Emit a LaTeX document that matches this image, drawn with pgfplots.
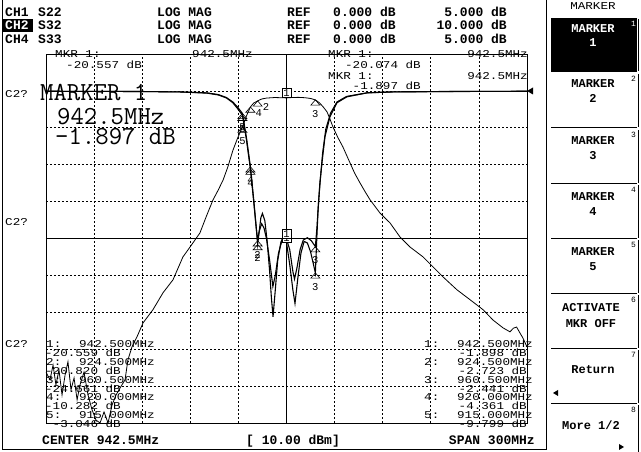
\documentclass[border=0pt]{standalone}
\usepackage{fontspec}
\newfontfamily\lmono{Liberation Mono}
\usepackage{pgfplots}
\usepackage{pgfplotstable}
\pgfplotsset{compat=1.18}

\newcommand\hdf{\lmono\bfseries\fontsize{13}{13}\selectfont}
\newcommand\smf{\lmono\fontsize{10.5}{10.5}\selectfont}
\newcommand\skf{\lmono\bfseries\fontsize{12}{12}\selectfont}
\newcommand\bigf{\ttfamily\fontsize{26}{26}\selectfont}

% CH2 S32, 10 dB/div
\pgfplotstableread{
f db
792.5 -76.2
795.0 -78.3
796.9 -74.3
798.7 -79.7
800.6 -75.6
802.5 -82.4
804.4 -77.0
806.2 -73.4
808.1 -81.0
810.0 -77.8
811.9 -83.7
813.7 -79.7
816.2 -76.2
818.7 -82.4
821.2 -86.4
823.7 -89.2
826.2 -90.0
828.7 -87.0
831.2 -90.0
833.7 -85.1
836.2 -82.4
838.7 -80.5
841.8 -78.3
843.6 -72.9
846.1 -69.4
849.2 -66.7
853.0 -62.9
859.2 -59.3
865.5 -54.7
871.7 -51.2
877.9 -45.0
883.0 -41.9
888.5 -38.5
892.5 -34.0
896.7 -29.5
900.0 -26.8
903.0 -24.1
906.0 -20.5
909.0 -16.2
912.0 -12.8
915.0 -9.8
917.5 -6.8
920.0 -4.36
922.0 -3.3
924.5 -2.72
927.0 -2.2
930.0 -1.95
935.0 -1.8
939.0 -1.85
942.5 -1.9
946.0 -1.8
950.0 -1.75
954.0 -1.85
957.5 -2.05
960.5 -2.44
963.0 -3.2
965.5 -4.4
967.8 -5.7
969.5 -7.5
971.5 -9.8
974.5 -12.6
977.7 -15.2
982.1 -19.5
985.0 -22.3
988.3 -24.9
991.5 -27.3
994.6 -29.5
1000.8 -33.1
1007.1 -35.8
1013.3 -39.6
1019.5 -42.3
1027.7 -45.0
1033.9 -47.7
1040.1 -50.4
1048.8 -53.9
1057.0 -56.6
1065.1 -59.3
1071.3 -62.1
1077.5 -64.2
1081.9 -65.3
1084.0 -64.3
1086.0 -64.0
1088.1 -65.6
1090.0 -67.0
1092.5 -69.4
}\tabS

% CH1 S22, 5 dB/div
\pgfplotstableread{
f db
792.5 -0.05
850.0 -0.08
876.0 -0.14
893.0 -0.27
900.0 -0.5
905.0 -0.9
909.0 -1.5
912.0 -2.2
915.0 -3.05
917.5 -6.3
920.0 -10.28
922.0 -14.6
923.5 -18.2
924.5 -20.82
925.5 -19.0
926.5 -17.2
927.5 -16.6
929.0 -17.6
930.5 -20.5
932.0 -24.5
933.0 -27.8
934.1 -30.6
935.5 -27.0
937.0 -23.0
939.0 -20.5
940.5 -19.8
942.5 -20.56
944.5 -23.5
946.5 -27.0
947.8 -28.8
949.5 -25.5
951.5 -22.0
953.5 -20.4
955.5 -20.6
957.5 -21.8
959.0 -23.2
960.5 -24.66
961.3 -20.5
962.1 -16.5
963.3 -12.5
964.6 -9.8
966.5 -6.2
969.6 -3.5
974.0 -1.6
980.2 -0.8
992.7 -0.27
1009.0 -0.14
1050.0 -0.08
1092.5 -0.05
}\tabA

% CH4 S33, 5 dB/div
\pgfplotstableread{
f db
792.5 -0.05
850.0 -0.08
876.0 -0.14
893.0 -0.3
900.0 -0.55
905.0 -0.95
909.0 -1.6
912.0 -2.4
915.0 -3.3
917.5 -6.6
920.0 -10.6
922.0 -14.9
923.5 -18.3
924.5 -20.3
925.5 -19.0
927.0 -18.0
928.5 -18.6
930.0 -20.0
932.0 -23.0
934.0 -26.5
935.5 -25.0
937.5 -22.0
940.0 -20.0
942.5 -20.07
944.5 -21.5
946.5 -24.5
947.5 -25.5
949.0 -24.0
951.0 -21.5
953.0 -20.2
955.5 -19.9
958.0 -20.3
960.5 -21.1
961.5 -18.5
962.5 -15.0
963.8 -11.5
965.0 -8.5
967.0 -5.2
970.0 -3.0
974.0 -1.5
980.0 -0.75
993.0 -0.25
1009.0 -0.13
1050.0 -0.07
1092.5 -0.05
}\tabB

\pgfplotsset{
  scr/.style={at={(46pt,29pt)}, anchor=south west, scale only axis,
    width=481pt, height=369pt, xmin=792.5, xmax=1092.5},
  tri/.style={only marks, mark=triangle, mark size=3.5pt,
    mark options={black, solid, line width=0.6pt, xscale=1.5, yshift=-3.5pt}},
  lab/.style={nodes near coords, point meta=explicit symbolic,
    every node near coord/.style={font=\smf, inner sep=0pt, anchor=north, yshift=-6.5pt}},
  labr/.style={nodes near coords, point meta=explicit symbolic,
    every node near coord/.style={font=\smf, inner sep=0pt, anchor=west, xshift=5pt, yshift=-3pt}},
  boxm/.style={draw=none, mark=none, nodes near coords, point meta=explicit symbolic,
    every node near coord/.style={font=\smf, draw, fill=white, inner sep=1.2pt,
      line width=0.6pt, anchor=south}},
}

\begin{document}
\begin{tikzpicture}
\useasboundingbox (0,0) rectangle (641pt,452pt);
\fill[white] (0,0) rectangle (641pt,452pt);

\begin{axis}[scr, ymin=-90, ymax=10,
  xtick={822.5,852.5,882.5,912.5,972.5,1002.5,1032.5,1062.5},
  ytick={-80,-70,-60,-50,-30,-20,-10,0},
  xticklabels={}, yticklabels={}, major tick length=0pt,
  xmajorgrids, ymajorgrids,
  grid style={black, line width=0.7pt, dash pattern=on 2pt off 2pt},
  axis line style={line width=0.9pt}]
\draw[line width=0.8pt] (axis cs:942.5,-90) -- (axis cs:942.5,10);
\draw[line width=0.8pt] (axis cs:792.5,-40) -- (axis cs:1092.5,-40);
\addplot[black, line width=0.8pt] table[x=f, y=db] {\tabS};
\addplot[tri, lab] coordinates {(960.5,-2.441) [3] (915,-9.799) [5]};
\addplot[tri, labr] coordinates {(924.5,-2.723) [2] (920,-4.361) [4]};
\addplot[boxm] coordinates {(942.5,-1.897) [1]};
\end{axis}

\begin{axis}[scr, ymin=-45, ymax=5, hide axis]
\addplot[black, line width=1.1pt] table[x=f, y=db] {\tabA};
\addplot[black, line width=1.1pt] table[x=f, y=db] {\tabB};
\addplot[tri, lab] coordinates {(924.5,-20.82) [2] (960.5,-24.661) [3] (920,-10.282) [4] (915,-3.046) [5]};
\addplot[tri, lab] coordinates {(924.5,-20.3) [2] (960.5,-21.1) [3] (920,-10.6) [4] (915,-3.3) [5]};
\addplot[boxm] coordinates {(942.5,-20.557) [1]};
\addplot[boxm] coordinates {(942.5,-20.074) [1]};
\end{axis}

\begin{scope}[x=1pt, y=-1pt, shift={(0pt,452pt)},
  hd/.style={font=\hdf, inner sep=0pt},
  sm/.style={font=\smf, inner sep=0pt, xscale=1.2},
  sk/.style={font=\skf, inner sep=0pt, anchor=base}]
% frame
\draw[line width=0.9pt] (2,0) -- (2,449) -- (546,449) -- (546,0);
% reference position
\fill (527,91) -- (533,87.5) -- (533,94.5) -- cycle;
% header
\fill (3,19) rectangle (33,32);
\foreach \yy/\ch/\sp/\sc/\col in {16.8/CH1/S22/5.000 dB\//black, 29.9/CH2/S32/10.000 dB\//white, 43.2/CH4/S33/5.000 dB\//black}{
  \node[hd, anchor=base west, text=\col] at (5,\yy) {\ch};
  \node[hd, anchor=base west] at (38,\yy) {\sp};
  \node[hd, anchor=base west] at (157,\yy) {LOG MAG};
  \node[hd, anchor=base west] at (287,\yy) {REF};
  \node[hd, anchor=base west] at (333,\yy) {0.000 dB};
  \node[hd, anchor=base east] at (507,\yy) {\sc};
}
% footer
\node[hd, anchor=base west] at (42,444.5) {CENTER 942.5MHz};
\node[hd, anchor=base west] at (246,444.5) {[ 10.00 dBm]};
\node[hd, anchor=base east] at (535,444.5) {SPAN 300MHz};
% marker readouts on top
\node[sm, anchor=base west] at (55,57.6) {MKR 1:};
\node[sm, anchor=base west] at (192,57.6) {942.5MHz};
\node[sm, anchor=base west] at (66,68.6) {-20.557 dB};
\node[sm, anchor=base west] at (328,57.6) {MKR 1:};
\node[sm, anchor=base east] at (528,57.6) {942.5MHz};
\node[sm, anchor=base east] at (421,68.6) {-20.074 dB};
\node[sm, anchor=base west] at (328,79.6) {MKR 1:};
\node[sm, anchor=base east] at (528,79.6) {942.5MHz};
\node[sm, anchor=base east] at (421,89.6) {-1.897 dB};
% big active marker
\node[font=\bigf, inner sep=0pt, anchor=base west] at (40,101) {MARKER 1};
\node[font=\bigf, inner sep=0pt, anchor=base west] at (57,125) {942.5MHz};
\node[font=\bigf, inner sep=0pt, anchor=base west] at (55,145) {-1.897 dB};
% C2? labels
\foreach \yy in {97.6, 225.6, 347.6} \node[sm, anchor=base west] at (5,\yy) {C2?};
% marker tables
\foreach \n/\f/\a/\b [count=\i from 0] in {1/942.500/-20.559/-1.898, 2/924.500/-20.820/-2.723,
   3/960.500/-24.661/-2.441, 4/920.000/-10.282/-4.361, 5/915.000/-3.046/-9.799}{
  \pgfmathsetmacro\ya{347.6+17.8*\i}
  \pgfmathsetmacro\yb{\ya+8.9}
  \node[sm, anchor=base west] at (46,\ya) {\n:};
  \node[sm, anchor=base east] at (155,\ya) {\f MHz};
  \node[sm, anchor=base east] at (121,\yb) {\a\ dB};
  \node[sm, anchor=base west] at (424,\ya) {\n:};
  \node[sm, anchor=base east] at (533,\ya) {\f MHz};
  \node[sm, anchor=base east] at (527,\yb) {\b\ dB};
}
% softkey panel
\node[sm, anchor=base] at (593,9.6) {MARKER};
\fill (551,18) rectangle (637,71);
\foreach \t/\b/\k/\dc in {18/71/1/white, 73/127/2/black, 129/183/3/black, 184/238/4/black,
   239/293/5/black, 294/348/6/black, 349/403/7/black, 404/452/8/black}{
  \draw[line width=0.9pt] (551,\b) -- (637,\b);
  \draw[line width=0.9pt] (638.5,\t+1) -- (638.5,\b);
  \node[font=\lmono\fontsize{8}{8}\selectfont, inner sep=0pt, anchor=base east, text=\dc]
     at (636,\t+9) {\k};
}
\node[sk, text=white] at (593,33) {MARKER};
\node[sk, text=white] at (593,47) {1};
\foreach \k/\ya/\yb in {2/88/102.5, 3/145/160, 4/201/216, 5/256/271}{
  \node[sk] at (593,\ya) {MARKER};
  \node[sk] at (593,\yb) {\k};
}
\node[sk] at (591,312) {ACTIVATE};
\node[sk] at (591,328) {MKR OFF};
\node[sk] at (593,374) {Return};
\node[sk] at (591,430) {More 1/2};
\fill (553,393) -- (558,390) -- (558,396) -- cycle;
\fill (624,447) -- (619,444) -- (619,450) -- cycle;
\end{scope}
\end{tikzpicture}
\end{document}
